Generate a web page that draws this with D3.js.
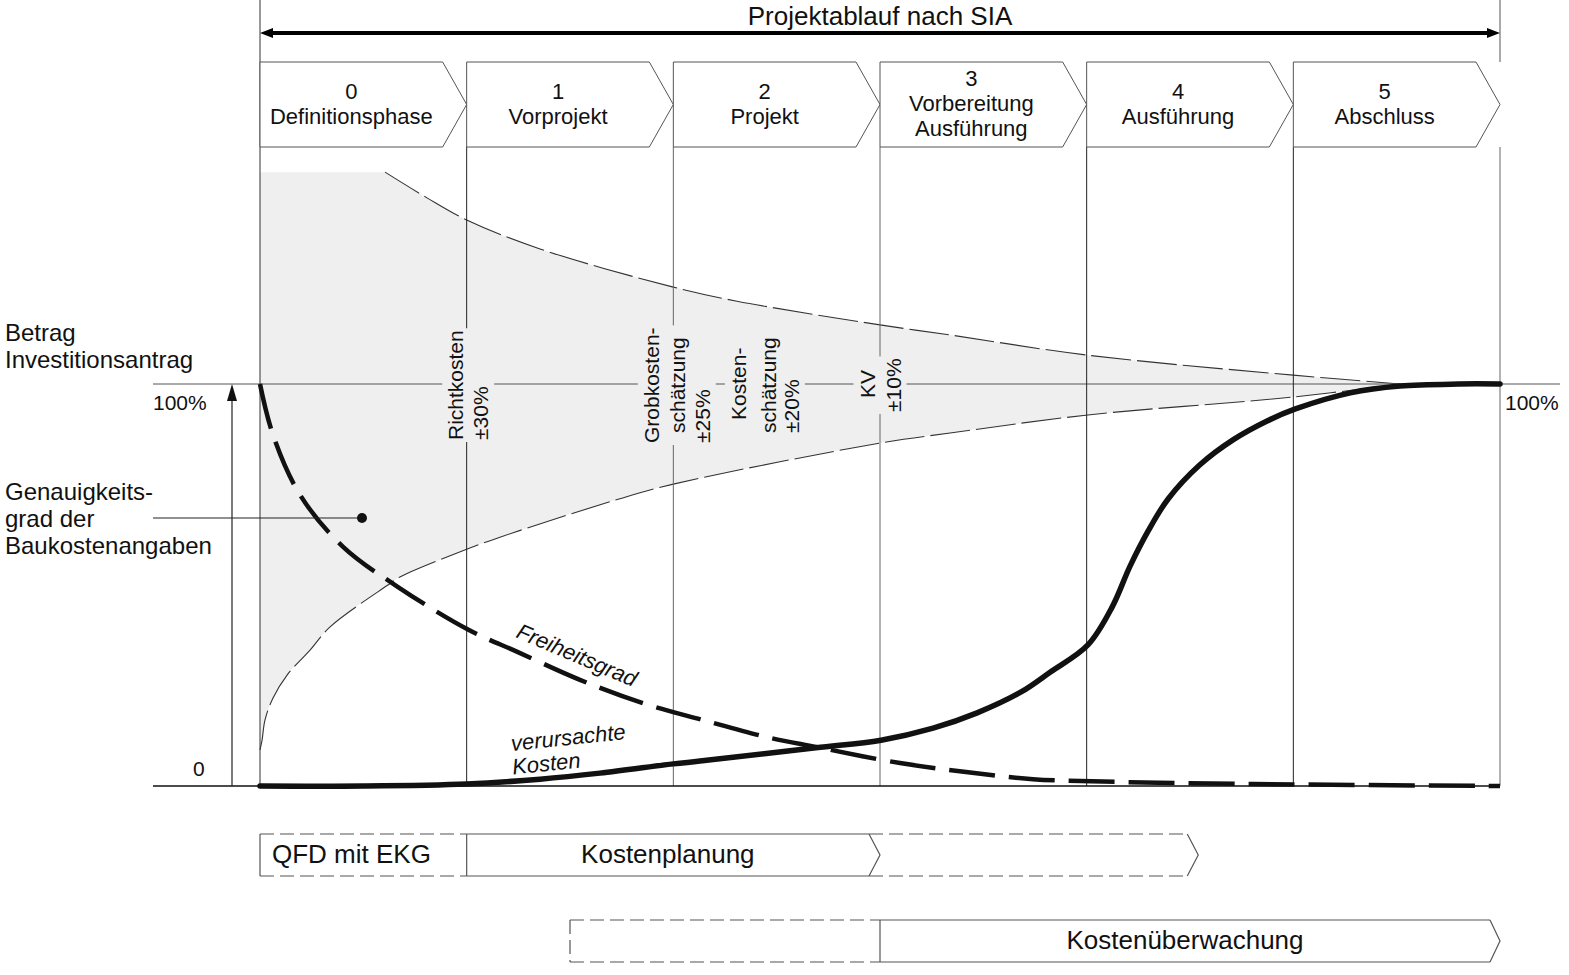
<!DOCTYPE html>
<html><head><meta charset="utf-8">
<script src="https://cdn.jsdelivr.net/npm/d3@7"></script>
<style>
body{margin:0;background:#fff}
svg{display:block}
text{font-family:"Liberation Sans",Arial,sans-serif;fill:#111}
</style>
</head><body>
<svg id="c" width="1569" height="975"></svg>
<script>
// ---------- data ----------
const title = "Projektablauf nach SIA";
const phaseNums = ["0","1","2","3","4","5"];
const phaseNames = [["Definitionsphase"],["Vorprojekt"],["Projekt"],["Vorbereitung","Ausführung"],["Ausführung"],["Abschluss"]];
const phaseBounds = [0,1,2,3,4,5,6];

// accuracy band (percent of investment amount), t = phase position
const bandTopV = 152.7;
const bandUpperT = [0.605, 0.808, 1.0, 1.355, 2.0, 2.308, 3.0, 3.339, 4.0, 5.0, 5.516];
const bandUpperV = [152.7, 146.3, 140.8, 133.6, 124.1, 120.6, 114.7, 112.2, 107.2, 102.2, 100];
const bandLowerT = [0, 0.01, 0.024, 0.063, 0.131, 0.242, 0.339, 0.619, 0.677, 1.006, 1.161, 1.737, 2.0, 3.0, 3.339, 4.006, 5.008, 5.516];
const bandLowerV = [9.0, 11.4, 16.4, 21.9, 27.6, 33.8, 39.6, 50.0, 52.0, 59.0, 61.9, 71.4, 75.1, 85.3, 87.8, 92.3, 96.8, 100];

// Freiheitsgrad (degree of freedom)
const freiT = [0, 0.063, 0.194, 0.402, 0.668, 1.011, 1.248, 1.548, 1.853, 2.144, 2.449, 2.691, 3.097, 3.416, 3.740, 4.165, 4.808, 6.0];
const freiV = [100, 87.3, 72.4, 59.5, 49.5, 38.8, 33.3, 26.4, 20.6, 16.4, 12.2, 9.7, 5.7, 3.5, 1.7, 1.0, 0.5, 0];

// verursachte Kosten (incurred costs)
const kostT = [0, 0.5, 1.0, 1.355, 1.645, 2.0, 2.129, 2.690, 3.005, 3.257, 3.470, 3.683, 3.823, 4.006, 4.123, 4.210, 4.297, 4.394, 4.548, 4.708, 4.873, 5.01, 5.276, 5.516, 5.8, 6.0];
const kostV = [0, 0, 0.5, 1.7, 3.2, 5.5, 6.2, 9.5, 11.4, 14.4, 18.2, 23.4, 28.3, 35.1, 44.5, 54.7, 63.4, 71.4, 79.9, 86.1, 90.8, 93.8, 97.8, 99.5, 100, 100];

const yTickLabels = ["0", "100%"];
const estimateLabels = [
  [{t:"Richtkosten", dx:-11, bottom:440}, {t:"±30%", dx:14, bottom:440}],
  [{t:"Grobkosten-", dx:-22, bottom:443}, {t:"schätzung", dx:4, bottom:433}, {t:"±25%", dx:29, bottom:443}],
  [{t:"Kosten-", dx:65, bottom:420}, {t:"schätzung", dx:95, bottom:433}, {t:"±20%", dx:118, bottom:433}]
];
const kvLabel = [{t:"KV", dx:-13, bottom:398}, {t:"±10%", dx:13, bottom:412}];
const planRow = [
  {label:"QFD mit EKG", t0:0, t1:1, dashed:true},
  {label:"Kostenplanung", t0:1, t1:3, dashed:false},
  {label:"", t0:3, t1:4.54, dashed:true}
];
const watchRow = [
  {label:"", t0:1.5, t1:3, dashed:true},
  {label:"Kostenüberwachung", t0:3, t1:6, dashed:false}
];

// ---------- scales ----------
const x = d3.scaleLinear().domain([0,6]).range([260,1500]);
const y = d3.scaleLinear().domain([0,100]).range([786,384]);
const svg = d3.select("#c");
const BAND = "#efefef";
const LINE = "#555";

const lineGen = d3.line().x(d=>x(d[0])).y(d=>y(d[1])).curve(d3.curveCatmullRom.alpha(0.5));
const upperPts = d3.zip(bandUpperT, bandUpperV);
const lowerPts = d3.zip(bandLowerT, bandLowerV);

// ---------- band ----------
const upperPath = lineGen(upperPts);
const lowerRevPath = lineGen(lowerPts.slice().reverse());
const fillD = "M" + x(0) + "," + y(bandTopV) + "L" + upperPath.slice(1) + "L" + lowerRevPath.slice(1) + "Z";
svg.append("path").attr("d", fillD).attr("fill", BAND).attr("stroke","none");
svg.append("path").attr("d", upperPath).attr("fill","none").attr("stroke","#333").attr("stroke-width",1.1).attr("stroke-dasharray","40,6");
svg.append("path").attr("d", lineGen(lowerPts)).attr("fill","none").attr("stroke","#333").attr("stroke-width",1.1).attr("stroke-dasharray","40,6");

// ---------- grid lines ----------
svg.append("line").attr("x1",153).attr("x2",1560).attr("y1",y(100)).attr("y2",y(100)).attr("stroke",LINE).attr("stroke-width",1);
svg.append("line").attr("x1",x(0)).attr("x2",x(0)).attr("y1",0).attr("y2",y(0)).attr("stroke","#333");
svg.append("line").attr("x1",x(6)).attr("x2",x(6)).attr("y1",0).attr("y2",62).attr("stroke",LINE);
const darkBounds = [1,4,5];
svg.selectAll("line.ph").data(phaseBounds.slice(1)).enter().append("line")
  .attr("x1",d=>x(d)).attr("x2",d=>x(d)).attr("y1",147).attr("y2",y(0))
  .attr("stroke",d=> darkBounds.includes(d) ? "#222" : "#666").attr("stroke-width",1);

// ---------- estimate labels (rotated) ----------
const estGroups = [
  {anchor:1, lines:estimateLabels[0]},
  {anchor:2, lines:estimateLabels[1]},
  {anchor:2, lines:estimateLabels[2]},
  {anchor:3, lines:kvLabel}
];
estGroups.forEach(g=>{
  const grp = svg.append("g");
  const rect = grp.append("rect").attr("fill", BAND);
  const texts = g.lines.map(l=>{
    return grp.append("text")
      .attr("transform", `translate(${x(g.anchor)+l.dx},${l.bottom}) rotate(-90)`)
      .attr("dominant-baseline","central")
      .attr("font-size",21).text(l.t);
  });
  let x0=1e9,x1=-1e9,y0=1e9,y1=-1e9;
  texts.forEach((t,i)=>{
    const b = t.node().getBBox();
    const l = g.lines[i];
    const cx = x(g.anchor)+l.dx, by = l.bottom;
    x0=Math.min(x0,cx+b.y); x1=Math.max(x1,cx+b.y+b.height);
    y0=Math.min(y0,by-(b.x+b.width)); y1=Math.max(y1,by-b.x);
  });
  rect.attr("x",x0-2).attr("y",y0-2).attr("width",x1-x0+4).attr("height",y1-y0+4);
});

// ---------- zero line ----------
svg.append("line").attr("x1",153).attr("x2",x(6)).attr("y1",y(0)).attr("y2",y(0)).attr("stroke","#111").attr("stroke-width",1.5);

// ---------- vertical value arrow ----------
svg.append("line").attr("x1",232).attr("x2",232).attr("y1",y(0)).attr("y2",y(100)+14).attr("stroke","#222").attr("stroke-width",1.2);
svg.append("path").attr("d",`M232,${y(100)} L227,${y(100)+17} L237,${y(100)+17} Z`).attr("fill","#111");

// ---------- curves ----------
svg.append("path").attr("d", lineGen(d3.zip(freiT,freiV))).attr("fill","none")
  .attr("stroke","#111").attr("stroke-width",4.5).attr("stroke-dasharray","46,14");
svg.append("path").attr("d", lineGen(d3.zip(kostT,kostV))).attr("fill","none")
  .attr("stroke","#111").attr("stroke-width",5.5).attr("stroke-linecap","round");

// ---------- pointer ----------
svg.append("line").attr("x1",153).attr("x2",362).attr("y1",518).attr("y2",518).attr("stroke","#222").attr("stroke-width",1.2);
svg.append("circle").attr("cx",362).attr("cy",518).attr("r",5).attr("fill","#111");

// ---------- left labels ----------
const leftLabels = [["Betrag",341],["Investitionsantrag",368],["Genauigkeits-",500],["grad der",527],["Baukostenangaben",554]];
leftLabels.forEach(([t,yy])=> svg.append("text").attr("x",5).attr("y",yy).attr("font-size",24).text(t));
svg.append("text").attr("x",153).attr("y",410).attr("font-size",21).text(yTickLabels[1]);
svg.append("text").attr("x",1505).attr("y",410).attr("font-size",21).text(yTickLabels[1]);
svg.append("text").attr("x",193).attr("y",776).attr("font-size",21).text(yTickLabels[0]);

// ---------- curve labels ----------
svg.append("text").attr("transform","translate(574,662) rotate(23)").attr("text-anchor","middle")
  .attr("font-size",22).attr("font-style","italic").text("Freiheitsgrad");
svg.append("text").attr("transform","translate(569,745) rotate(-6)").attr("text-anchor","middle")
  .attr("font-size",22).attr("font-style","italic").text("verursachte");
svg.append("text").attr("transform","translate(547,771) rotate(-6)").attr("text-anchor","middle")
  .attr("font-size",22).attr("font-style","italic").text("Kosten");

// ---------- top arrow & title ----------
svg.append("text").attr("x",880).attr("y",25).attr("text-anchor","middle").attr("font-size",26).text(title);
svg.append("line").attr("x1",x(0)+10).attr("x2",x(6)-10).attr("y1",33).attr("y2",33).attr("stroke","#000").attr("stroke-width",4);
svg.append("path").attr("d",`M${x(0)},33 L${x(0)+13},28 L${x(0)+13},38 Z`).attr("fill","#000");
svg.append("path").attr("d",`M${x(6)},33 L${x(6)-13},28 L${x(6)-13},38 Z`).attr("fill","#000");

// ---------- phase chevrons ----------
const TIP = 24, BT = 62, BB = 147;
phaseNums.forEach((n,i)=>{
  const a = x(phaseBounds[i]), b = x(phaseBounds[i+1]);
  svg.append("path").attr("d",`M${a},${BT} L${b-TIP},${BT} L${b},${(BT+BB)/2} L${b-TIP},${BB} L${a},${BB} Z`)
    .attr("fill","#fff").attr("stroke",LINE).attr("stroke-width",1);
  const cx = (a + b - TIP)/2;
  const lines = [n].concat(phaseNames[i]);
  const base = lines.length === 3 ? 86 : 99;
  lines.forEach((t,k)=> svg.append("text").attr("x",cx).attr("y",base + k*25).attr("text-anchor","middle").attr("font-size",22).text(t));
});

// ---------- bottom rows ----------
function drawRow(row, y0, y1, tip){
  const ym = (y0+y1)/2;
  row.forEach((s,i)=>{
    const a = x(s.t0), b = x(s.t1);
    const isLast = i === row.length-1;
    const dash = s.dashed ? "14,6" : null;
    const prevTip = i>0 && !row[i-1].dashed && s.dashed ? -tip : 0;
    const sx = a + prevTip;
    const ex = s.dashed && !isLast ? b : b - tip;
    [y0,y1].forEach(yy=> svg.append("line").attr("x1",sx).attr("x2",ex).attr("y1",yy).attr("y2",yy)
      .attr("stroke",LINE).attr("stroke-width",1.2).attr("stroke-dasharray",dash));
    if(i===0){
      svg.append("line").attr("x1",a).attr("x2",a).attr("y1",y0).attr("y2",y1)
        .attr("stroke",LINE).attr("stroke-width",1.2).attr("stroke-dasharray", s.dashed && row===watchRow ? "14,6" : null);
    }
    if(s.dashed && !isLast){
      svg.append("line").attr("x1",b).attr("x2",b).attr("y1",y0).attr("y2",y1).attr("stroke",LINE).attr("stroke-width",1.2);
    } else {
      svg.append("path").attr("d",`M${b-tip},${y0} L${b},${ym} L${b-tip},${y1}`).attr("fill","none").attr("stroke",LINE).attr("stroke-width",1.2);
    }
    if(s.label){
      const t = svg.append("text").attr("y", y0+29).attr("font-size",26).text(s.label);
      if(i===0) t.attr("x", a+12);
      else t.attr("x", (a+b-tip)/2).attr("text-anchor","middle");
    }
  });
}
drawRow(planRow, 834, 876, 11);
drawRow(watchRow, 920, 962, 10);
</script>
</body></html>
